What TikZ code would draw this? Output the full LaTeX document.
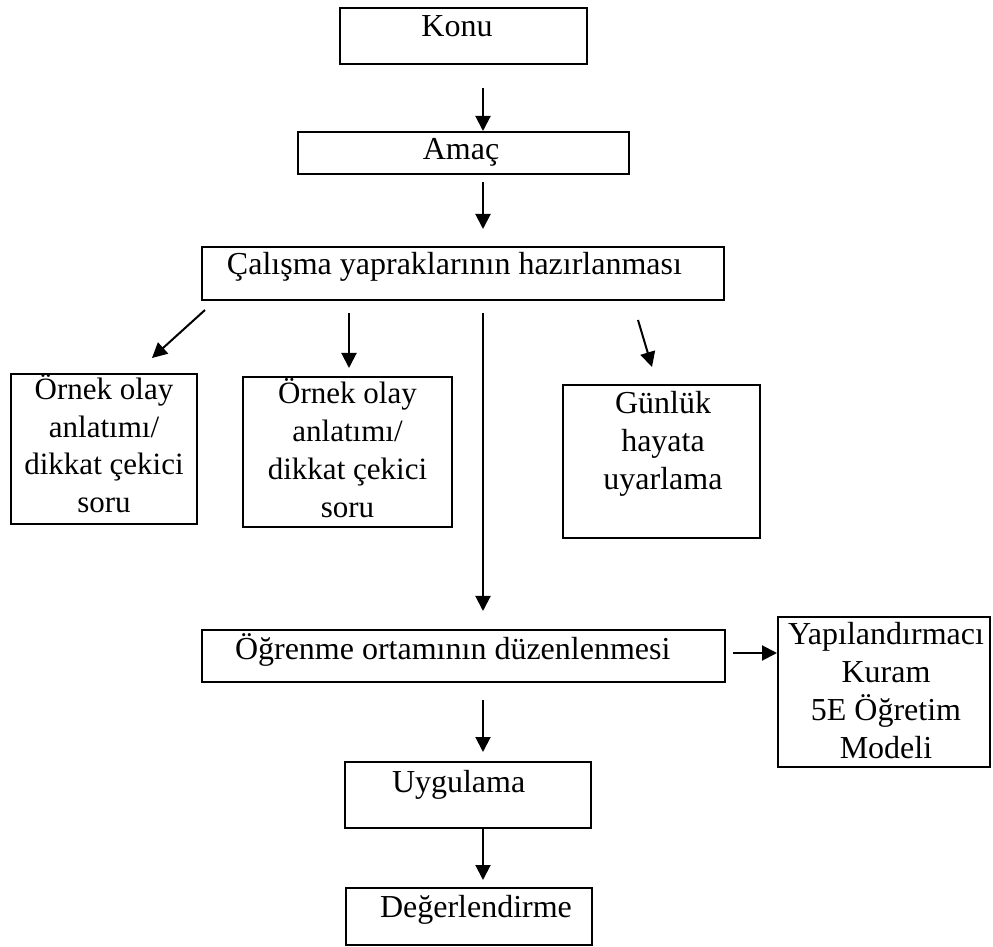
\documentclass[tikz,border=0pt]{standalone}
\usepackage{fontspec}
\setmainfont{Liberation Serif}
\usetikzlibrary{arrows.meta,calc}
\begin{document}
\begin{tikzpicture}[x=0.5pt,y=-0.5pt,
  box/.style={draw, line width=1.2pt, inner sep=0pt, outer sep=0pt},
  txt/.style={inner sep=0pt, outer sep=0pt, align=center, font=\fontsize{16}{19}\selectfont},
  txtsm/.style={txt, font=\fontsize{15.5}{19}\selectfont},
  arr/.style={line width=1pt, -{Triangle[width=7.5pt,length=7.5pt]}}]
\useasboundingbox (0,0) rectangle (993,947);

% boxes
\node[box, minimum width=123.5pt, minimum height=28pt]   (konu)    at (463.5,36) {};
\node[box, minimum width=165.5pt, minimum height=21pt]   (amac)    at (463.5,153) {};
\node[box, minimum width=261pt,   minimum height=26.5pt] (calisma) at (463,273.5) {};
\node[box, minimum width=93pt,    minimum height=75pt]   (ornekA)  at (104,449) {};
\node[box, minimum width=104.5pt, minimum height=75pt]   (ornekB)  at (347.5,452) {};
\node[box, minimum width=98.5pt,  minimum height=76.5pt] (gunluk)  at (661.5,461.5) {};
\node[box, minimum width=261.5pt, minimum height=26pt]   (ogrenme) at (463.5,656) {};
\node[box, minimum width=106pt,   minimum height=75pt]   (yap)     at (884,692) {};
\node[box, minimum width=123pt,   minimum height=33pt]   (uyg)     at (468,795) {};
\node[box, minimum width=123pt,   minimum height=28.5pt] (deg)     at (469,916.5) {};

% texts (multi-line nodes: base anchor = last line's baseline)
\node[txt, anchor=base] (konuT) at (457,37) {Konu};
\node[txt, anchor=base] (amacT) at (461,160) {Amaç};
\node[txt, anchor=base west] (calismaT) at (227,275) {Çalışma yapraklarının hazırlanması};
\node[txtsm, anchor=base] (ornekAT) at (104,513) {Örnek olay\\anlatımı/\\dikkat çekici\\soru};
\node[txtsm, anchor=base] (ornekBT) at (347.5,517) {Örnek olay\\anlatımı/\\dikkat çekici\\soru};
\node[txt, anchor=base] (gunlukT) at (663,489) {Günlük\\hayata\\uyarlama};
\node[txt, anchor=base west] (ogrenmeT) at (235,660) {Öğrenme ortamının düzenlenmesi};
\node[txt, anchor=base] (yapT) at (886,758) {Yapılandırmacı\\Kuram\\5E Öğretim\\Modeli};
\node[txt, anchor=base west] (uygT) at (392,792) {Uygulama};
\node[txt, anchor=base west] (degT) at (380,917) {Değerlendirme};

% connectors
\draw[arr] ($(konu.south)+(19.5,24)$) -- ($(amac.north)+(19.5,-1)$);
\draw[arr] ($(amac.south)+(19.5,8)$) -- ($(calisma.north)+(20,-18)$);
\draw[arr] ($(calisma.south west)+(3,10)$) -- ($(ornekA.north)+(48,-16)$);
\draw[arr] ($(calisma.south)+(-114,13)$) -- ($(ornekB.north)+(1.5,-9)$);
\draw[arr] ($(calisma.south)+(20,13)$) -- ($(ogrenme.north)+(19.5,-19)$);
\draw[arr] ($(calisma.south)+(175,20)$) -- ($(gunluk.north)+(-9.5,-18)$);
\draw[arr] ($(ogrenme.east)+(8,-3)$) -- ($(yap.west)+(-1,-39)$);
\draw[arr] ($(ogrenme.south)+(19.5,18)$) -- ($(uyg.north)+(15,-10)$);
\draw[arr] ($(uyg.south)+(15,0)$) -- ($(deg.north)+(14,-8)$);
\end{tikzpicture}
\end{document}
